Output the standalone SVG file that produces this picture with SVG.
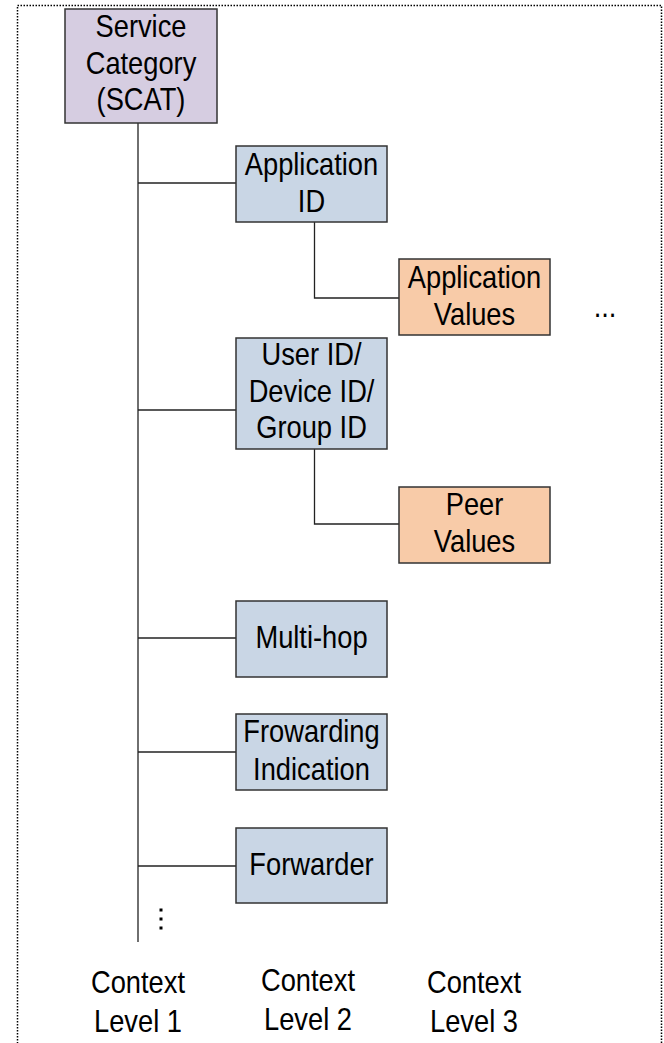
<svg xmlns="http://www.w3.org/2000/svg" width="664" height="1043" viewBox="0 0 664 1043">
<style>
.box{stroke:#333;stroke-width:1.5}
.p{fill:#D6CDE1}
.b{fill:#C9D6E5}
.o{fill:#F8CBA8}
.t{font-family:"Liberation Sans",Arial,sans-serif;font-size:31px;fill:#000;text-anchor:middle;transform-box:fill-box;transform-origin:center;transform:scaleX(0.88)}
.c{fill:none;stroke:#222;stroke-width:1.3}
</style>
<rect x="17.5" y="5.5" width="644" height="1060" fill="none" stroke="#000" stroke-width="1.5" stroke-dasharray="1.5 1.5"/>
<g id="connectors">
<line class="c" x1="138" y1="123" x2="138" y2="942"/>
<line class="c" x1="138" y1="183" x2="236" y2="183"/>
<line class="c" x1="138" y1="410" x2="236" y2="410"/>
<line class="c" x1="138" y1="638" x2="236" y2="638"/>
<line class="c" x1="138" y1="752" x2="236" y2="752"/>
<line class="c" x1="138" y1="866" x2="236" y2="866"/>
<polyline class="c" points="314.5,222 314.5,298 399,298"/>
<polyline class="c" points="314.5,449 314.5,524 399,524"/>
</g>
<g id="scat">
<rect class="box p" x="65" y="9" width="152" height="114"/>
<text class="t"><tspan x="141" y="37">Service</tspan><tspan x="141" y="74">Category</tspan><tspan x="141" y="110">(SCAT)</tspan></text>
</g>
<g id="app-id">
<rect class="box b" x="236" y="146" width="151" height="76"/>
<text class="t"><tspan x="311.5" y="175">Application</tspan><tspan x="311.5" y="212">ID</tspan></text>
</g>
<g id="app-values">
<rect class="box o" x="399" y="259" width="151" height="76"/>
<text class="t"><tspan x="474.5" y="288">Application</tspan><tspan x="474.5" y="325">Values</tspan></text>
</g>
<g id="more-level3">
<text class="t" x="605" y="317">...</text>
</g>
<g id="user-id">
<rect class="box b" x="236" y="338" width="151" height="111"/>
<text class="t"><tspan x="311.5" y="365">User ID/</tspan><tspan x="311.5" y="402">Device ID/</tspan><tspan x="311.5" y="438">Group ID</tspan></text>
</g>
<g id="peer-values">
<rect class="box o" x="399" y="487" width="151" height="76"/>
<text class="t"><tspan x="474.5" y="515">Peer</tspan><tspan x="474.5" y="552">Values</tspan></text>
</g>
<g id="multi-hop">
<rect class="box b" x="236" y="601" width="151" height="76"/>
<text class="t" x="311.5" y="648">Multi-hop</text>
</g>
<g id="frowarding">
<rect class="box b" x="236" y="714" width="151" height="76"/>
<text class="t"><tspan x="311.5" y="742">Frowarding</tspan><tspan x="311.5" y="780">Indication</tspan></text>
</g>
<g id="forwarder">
<rect class="box b" x="236" y="828" width="151" height="75"/>
<text class="t" x="311.5" y="875">Forwarder</text>
</g>
<g id="more-level2">
<rect x="159.5" y="908.5" width="3" height="3" fill="#000"/>
<rect x="159.5" y="917.5" width="3" height="3" fill="#000"/>
<rect x="159.5" y="926.5" width="3" height="3" fill="#000"/>
</g>
<g id="labels">
<text class="t"><tspan x="138" y="993">Context</tspan><tspan x="138" y="1032">Level 1</tspan></text>
<text class="t"><tspan x="308" y="991">Context</tspan><tspan x="308" y="1030">Level 2</tspan></text>
<text class="t"><tspan x="474" y="993">Context</tspan><tspan x="474" y="1032">Level 3</tspan></text>
</g>
</svg>
